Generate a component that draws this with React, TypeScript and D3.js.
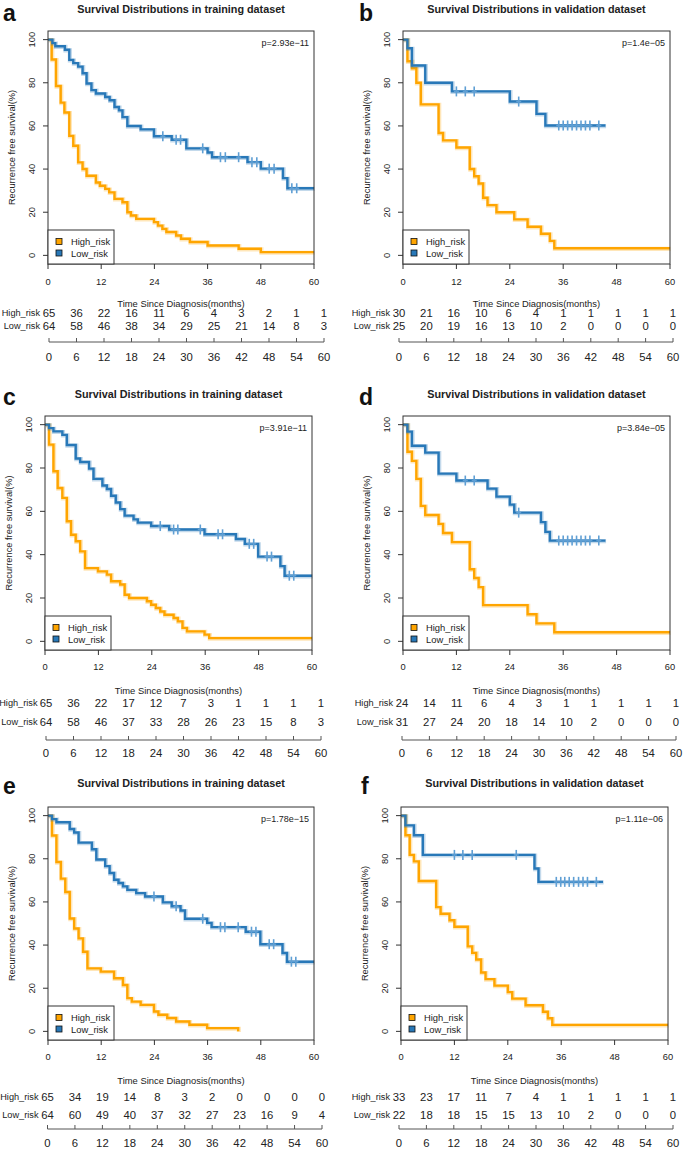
import React from "react";
import * as d3 from "d3";

// ---------- shared labels ----------
const timeTicks = [0, 12, 24, 36, 48, 60];
const riskTicks = [0, 6, 12, 18, 24, 30, 36, 42, 48, 54, 60];
const survTicks = [0, 20, 40, 60, 80, 100];
const groupNames = ["High_risk", "Low_risk"];
const panelLetters = ["a", "b", "c", "d", "e", "f"];
const panelTitles = [
  "Survival Distributions in training dataset",
  "Survival Distributions in validation dataset",
  "Survival Distributions in training dataset",
  "Survival Distributions in validation dataset",
  "Survival Distributions in training dataset",
  "Survival Distributions in validation dataset",
];
const pValues = ["p=2.93e\u221211", "p=1.4e\u221205", "p=3.91e\u221211", "p=3.84e\u221205", "p=1.78e\u221215", "p=1.11e\u221206"];
const xTitle = "Time Since Diagnosis(months)";
const yTitle = "Recurrence free survival(%)";

// ---------- panel a ----------
const aHighTime = [0.83, 1.8, 2.86, 3.7, 4.8, 5.7, 6.8, 7.8, 8.7, 10.8, 11.7, 12.9, 13.8, 15, 16.8, 17.9, 18.7, 19.9, 23.9, 24.8, 25.8, 26.7, 28.9, 30, 32, 36, 43, 48];
const aHighSurv = [90.8, 78.5, 70.8, 66.2, 55.4, 50.8, 43.1, 40, 36.9, 33.8, 32.3, 30.8, 29.2, 26.2, 24.6, 20, 18.5, 16.9, 15.4, 13.8, 12.3, 10.8, 9.2, 7.7, 6.2, 4.6, 3.1, 1.5];
const aHighCens: number[] = [];
const aHighEnd = 60;
const aLowTime = [1.0, 1.65, 3.8, 4.8, 5.7, 6.8, 7.8, 8.7, 9.8, 10.8, 12.9, 13.9, 15, 16, 16.8, 17.9, 20.9, 23.9, 27.9, 31.2, 36, 37, 45, 48, 53, 54];
const aLowSurv = [98.4, 96.9, 95.3, 90.6, 89.1, 87.5, 84.4, 79.7, 76.6, 75, 73.4, 71.9, 68.8, 67.2, 64.1, 60, 58.4, 55.2, 53.6, 49.6, 47.7, 45.5, 43.2, 40.2, 35.8, 31.1];
const aLowCens = [25.9, 28.9, 29.9, 34.9, 38.9, 40, 43, 46, 47.1, 49.9, 51, 55, 56.1];
const aLowEnd = 60;
const aHighRisk = [65, 36, 22, 16, 11, 6, 4, 3, 2, 1, 1];
const aLowRisk = [64, 58, 46, 38, 34, 29, 25, 21, 14, 8, 3];

// ---------- panel b ----------
const bHighTime = [1, 2, 3, 4, 8, 9, 12, 15, 16, 17, 18, 19, 21, 25, 28, 31, 33, 34];
const bHighSurv = [90, 86.7, 80, 70, 56.7, 53.3, 50, 40, 36.7, 33.3, 26.7, 23.3, 20, 16.7, 13.3, 10, 6.7, 3.3];
const bHighCens: number[] = [];
const bHighEnd = 60;
const bLowTime = [1, 2, 5, 11, 24, 30, 32];
const bLowSurv = [96, 88, 80, 76, 71.3, 65.6, 60.2];
const bLowCens = [12, 14, 16, 26, 35, 36, 37, 38, 39, 40, 41, 42, 44];
const bLowEnd = 45.5;
const bHighRisk = [30, 21, 16, 10, 6, 4, 1, 1, 1, 1, 1];
const bLowRisk = [25, 20, 19, 16, 13, 10, 2, 0, 0, 0, 0];

// ---------- panel c ----------
const cHighTime = [0.9, 1.9, 2.85, 3.9, 4.9, 5.85, 6.9, 7.9, 9, 11.9, 13.9, 14.85, 16.9, 17.9, 18.9, 22.9, 23.85, 24.9, 25.9, 26.85, 28.9, 29.85, 30.9, 31.9, 35.85, 36.9];
const cHighSurv = [90.8, 78.5, 70.8, 66.2, 55.4, 49.2, 46.2, 41.5, 33.8, 32.3, 30.8, 27.7, 26.2, 21.5, 20, 18.5, 16.9, 15.4, 13.8, 12.3, 10.8, 9.2, 6.2, 4.6, 3.1, 1.5];
const cHighCens: number[] = [];
const cHighEnd = 60;
const cLowTime = [0.9, 1.9, 3.9, 4.9, 6.9, 7.9, 9.9, 10.9, 12.9, 13.9, 14.85, 15.9, 16.9, 17.9, 19.9, 20.85, 23.85, 27.9, 35.85, 42.9, 44.9, 47.9, 52.9, 53.85];
const cLowSurv = [98.4, 96.9, 95.3, 90.6, 84.4, 82.8, 79.7, 75, 71.9, 70.3, 67.2, 64.1, 61, 58, 56.3, 54.8, 53.2, 51.6, 49.4, 47.2, 45, 39.1, 34.7, 30.3];
const cLowCens = [25.9, 28.9, 29.85, 34.9, 38.9, 39.9, 45.9, 46.9, 49.9, 50.9, 54.9, 55.9];
const cLowEnd = 60;
const cHighRisk = [65, 36, 22, 17, 12, 7, 3, 1, 1, 1, 1];
const cLowRisk = [64, 58, 46, 37, 33, 28, 26, 23, 15, 8, 3];

// ---------- panel d ----------
const dHighTime = [1, 2, 3, 4, 5, 8, 9, 11, 15, 16, 17, 18, 28, 30, 34];
const dHighSurv = [87.5, 83.3, 75, 62.5, 58.3, 54.2, 50, 45.8, 33.3, 29.2, 25, 16.7, 12.5, 8.3, 4.2];
const dHighCens: number[] = [];
const dHighEnd = 60;
const dLowTime = [1, 2, 5, 8, 12, 19, 21, 24, 25, 31, 32, 33];
const dLowSurv = [96.8, 90.3, 87.1, 77.4, 74.2, 70.5, 66.8, 63.1, 59.4, 55, 50.5, 46.5];
const dLowCens = [14, 16, 26, 35, 36, 37, 38, 39, 40, 41, 42, 44];
const dLowEnd = 45.5;
const dHighRisk = [24, 14, 11, 6, 4, 3, 1, 1, 1, 1, 1];
const dLowRisk = [31, 27, 24, 20, 18, 14, 10, 2, 0, 0, 0];

// ---------- panel e ----------
const eHighTime = [0.9, 1.9, 2.9, 3.9, 4.9, 5.9, 6.9, 7.9, 8.9, 11.9, 14.9, 16.9, 17.9, 18.9, 20.9, 23.9, 24.9, 26.9, 28.9, 31.9, 35.9, 42.9];
const eHighSurv = [90.8, 78.5, 70.8, 64.6, 52.3, 47.7, 43.1, 36.9, 29.2, 27.7, 24.6, 21.5, 15.4, 13.8, 12.3, 9.2, 7.7, 6.2, 4.6, 3.1, 1.5, 0];
const eHighCens: number[] = [];
const eHighEnd = 42.9;
const eLowTime = [0.9, 1.9, 4.9, 5.9, 6.9, 9.9, 10.9, 12.9, 13.9, 14.9, 15.9, 16.9, 17.9, 19.9, 21.9, 25.9, 27.9, 29.9, 30.9, 35.9, 36.9, 44.6, 47.9, 52.9, 53.9];
const eLowSurv = [98.4, 96.9, 93.8, 92.2, 87.5, 84.4, 79.7, 76.6, 73.4, 70.3, 68.8, 67.2, 65.6, 64.1, 62.5, 59.8, 58, 56, 52.2, 50.3, 48.3, 46.2, 40.4, 36.3, 32.3];
const eLowCens = [23.9, 28.9, 34.9, 38.9, 39.9, 42.9, 45.9, 46.9, 49.9, 50.9, 54.9, 55.9];
const eLowEnd = 60;
const eHighRisk = [65, 34, 19, 14, 8, 3, 2, 0, 0, 0, 0];
const eLowRisk = [64, 60, 49, 40, 37, 32, 27, 23, 16, 9, 4];

// ---------- panel f ----------
const fHighTime = [1, 1.95, 2.9, 4, 7.9, 8.9, 10.9, 12, 15, 16, 16.9, 18, 19, 21, 24, 25, 28, 31.9, 33, 34];
const fHighSurv = [90.9, 81.8, 78.8, 69.7, 57.6, 54.5, 51.5, 48.5, 39.4, 36.4, 33.3, 27.3, 24.2, 21.2, 18.2, 15.2, 12.1, 9.1, 6.1, 3];
const fHighCens: number[] = [];
const fHighEnd = 60;
const fLowTime = [1, 2.9, 4.9, 30, 30.9];
const fLowSurv = [95.5, 90.9, 81.8, 75.5, 69.3];
const fLowCens = [12, 13.9, 16, 25.9, 34.9, 35.9, 36.8, 37.8, 38.8, 39.9, 40.9, 41.9, 43.9];
const fLowEnd = 45.4;
const fHighRisk = [33, 23, 17, 11, 7, 4, 1, 1, 1, 1, 1];
const fLowRisk = [22, 18, 18, 15, 15, 13, 10, 2, 0, 0, 0];

// ---------- layout (positions only) ----------
const rowLayouts = [
  { titleY: 8.5, letterY: 21, top: 31, bottom: 264, tickLabY: 282, xlabY: 303, highY: 313, lowY: 326, axisY: 342, riskLabY: 357 },
  { titleY: 394, letterY: 405, top: 416, bottom: 650, tickLabY: 667, xlabY: 690, highY: 703, lowY: 722, axisY: 740, riskLabY: 753 },
  { titleY: 783, letterY: 794, top: 807, bottom: 1040, tickLabY: 1057, xlabY: 1080, highY: 1097, lowY: 1115, axisY: 1129, riskLabY: 1143 },
];
const colLayouts = [
  { left: 48, right: 314, rx0: 49, rx1: 324, labR: 40, letterX: 3 },
  { left: 403, right: 670, rx0: 399, rx1: 673, labR: 390, letterX: 359 },
  { left: 45, right: 312, rx0: 46, rx1: 321, labR: 37.5, letterX: 3 },
  { left: 403, right: 670, rx0: 402, rx1: 676, labR: 393, letterX: 359 },
  { left: 48, right: 314, rx0: 47.5, rx1: 322, labR: 38.5, letterX: 3 },
  { left: 401, right: 668, rx0: 399, rx1: 673, labR: 390, letterX: 361 },
];

const COLORS = ["#FFA500", "#2878B8"];
const CENSOR_COLOR = "#5f9fd4";
const FONT = "'Liberation Sans', Arial, Helvetica, sans-serif";
const INK = "#222";

type Curve = { time: number[]; surv: number[]; cens: number[]; end: number };

const panelCurves: Curve[][] = [
  [{ time: aHighTime, surv: aHighSurv, cens: aHighCens, end: aHighEnd }, { time: aLowTime, surv: aLowSurv, cens: aLowCens, end: aLowEnd }],
  [{ time: bHighTime, surv: bHighSurv, cens: bHighCens, end: bHighEnd }, { time: bLowTime, surv: bLowSurv, cens: bLowCens, end: bLowEnd }],
  [{ time: cHighTime, surv: cHighSurv, cens: cHighCens, end: cHighEnd }, { time: cLowTime, surv: cLowSurv, cens: cLowCens, end: cLowEnd }],
  [{ time: dHighTime, surv: dHighSurv, cens: dHighCens, end: dHighEnd }, { time: dLowTime, surv: dLowSurv, cens: dLowCens, end: dLowEnd }],
  [{ time: eHighTime, surv: eHighSurv, cens: eHighCens, end: eHighEnd }, { time: eLowTime, surv: eLowSurv, cens: eLowCens, end: eLowEnd }],
  [{ time: fHighTime, surv: fHighSurv, cens: fHighCens, end: fHighEnd }, { time: fLowTime, surv: fLowSurv, cens: fLowCens, end: fLowEnd }],
];
const panelRisks = [
  [aHighRisk, aLowRisk],
  [bHighRisk, bLowRisk],
  [cHighRisk, cLowRisk],
  [dHighRisk, dLowRisk],
  [eHighRisk, eLowRisk],
  [fHighRisk, fLowRisk],
];

function survAt(c: Curve, t: number) {
  let s = 100;
  c.time.forEach((tt, i) => {
    if (tt <= t) s = c.surv[i];
  });
  return s;
}

function Panel({ idx }: { idx: number }) {
  const row = rowLayouts[Math.floor(idx / 2)];
  const col = colLayouts[idx];
  const x = d3.scaleLinear().domain([0, 60]).range([col.left, col.right]);
  const y = d3.scaleLinear().domain([-4, 104]).range([row.bottom, row.top]);
  const rx = d3.scaleLinear().domain([0, 60]).range([col.rx0, col.rx1]);
  const line = d3
    .line<[number, number]>()
    .x((d) => x(d[0]))
    .y((d) => y(d[1]))
    .curve(d3.curveStepAfter);
  const curves = panelCurves[idx];
  const risks = panelRisks[idx];
  const cx = (col.left + col.right) / 2;
  const legTop = row.bottom - 34;
  const legW = 66;

  return (
    <g>
      <text x={col.letterX} y={row.letterY} fontSize={23} fontWeight="bold" fill="#111" fontFamily={FONT}>
        {panelLetters[idx]}
      </text>
      <text x={cx} y={row.titleY} fontSize={10.8} fontWeight="bold" textAnchor="middle" dominantBaseline="central" fill={INK} fontFamily={FONT}>
        {panelTitles[idx]}
      </text>
      {/* curves */}
      {curves.map((c, gi) => {
        const pts: [number, number][] = [[0, 100]];
        c.time.forEach((t, i) => pts.push([t, c.surv[i]]));
        const last = c.surv.length ? c.surv[c.surv.length - 1] : 100;
        if (c.end > c.time[c.time.length - 1]) pts.push([c.end, last]);
        const d = line(pts) || "";
        return (
          <g key={gi}>
            <path d={d} fill="none" stroke={COLORS[gi]} strokeWidth={4.2} strokeOpacity={0.28} transform="translate(0.6,0.6)" />
            <path d={d} fill="none" stroke={COLORS[gi]} strokeWidth={2.4} />
            {c.cens.map((t, k) => {
              const px = x(t);
              const py = y(survAt(c, t));
              return (
                <g key={k}>
                  <line x1={px} x2={px} y1={py - 5} y2={py + 5} stroke={CENSOR_COLOR} strokeWidth={1.6} />
                  <line x1={px - 2.5} x2={px + 2.5} y1={py} y2={py} stroke={CENSOR_COLOR} strokeWidth={1.4} />
                </g>
              );
            })}
          </g>
        );
      })}
      {/* box */}
      <rect x={col.left} y={row.top} width={col.right - col.left} height={row.bottom - row.top} fill="none" stroke="#333" strokeWidth={1} />
      {/* p value */}
      <text x={col.right - 5} y={row.top + 12} fontSize={9} textAnchor="end" dominantBaseline="central" fill={INK} fontFamily={FONT}>
        {pValues[idx]}
      </text>
      {/* y axis */}
      {survTicks.map((v) => (
        <g key={v}>
          <line x1={col.left - 5} x2={col.left} y1={y(v)} y2={y(v)} stroke="#333" strokeWidth={1} />
          <text
            transform={`translate(${col.left - 16},${y(v)}) rotate(-90)`}
            fontSize={9.3}
            textAnchor="middle"
            dominantBaseline="central"
            fill={INK}
            fontFamily={FONT}
          >
            {v}
          </text>
        </g>
      ))}
      <text
        transform={`translate(${col.left - 36},${(y(0) + y(100)) / 2}) rotate(-90)`}
        fontSize={9.3}
        textAnchor="middle"
        dominantBaseline="central"
        fill={INK}
        fontFamily={FONT}
      >
        {yTitle}
      </text>
      {/* x axis */}
      {timeTicks.map((v) => (
        <g key={v}>
          <line x1={x(v)} x2={x(v)} y1={row.bottom} y2={row.bottom + 5} stroke="#333" strokeWidth={1} />
          <text x={x(v)} y={row.tickLabY} fontSize={9.3} textAnchor="middle" dominantBaseline="central" fill={INK} fontFamily={FONT}>
            {v}
          </text>
        </g>
      ))}
      <text x={cx} y={row.xlabY} fontSize={9.4} textAnchor="middle" dominantBaseline="central" fill={INK} fontFamily={FONT}>
        {xTitle}
      </text>
      {/* legend */}
      <rect x={col.left} y={legTop} width={legW} height={row.bottom - legTop} fill="#fff" stroke="#333" strokeWidth={1} />
      {groupNames.map((g, gi) => (
        <g key={g}>
          <rect x={col.left + 8} y={legTop + 11.5 * (gi + 1) - 3} width={6} height={6} fill={COLORS[gi]} stroke="#111" strokeWidth={0.8} />
          <text x={col.left + 23} y={legTop + 11.5 * (gi + 1)} fontSize={9.4} dominantBaseline="central" fill={INK} fontFamily={FONT}>
            {g}
          </text>
        </g>
      ))}
      {/* risk table */}
      {groupNames.map((g, gi) => {
        const ry = gi === 0 ? row.highY : row.lowY;
        return (
          <g key={g}>
            <text x={col.labR} y={ry} fontSize={9.2} textAnchor="end" dominantBaseline="central" fill={INK} fontFamily={FONT}>
              {g}
            </text>
            {risks[gi].map((n, k) => (
              <text key={k} x={rx(riskTicks[k])} y={ry} fontSize={11.3} textAnchor="middle" dominantBaseline="central" fill={INK} fontFamily={FONT}>
                {n}
              </text>
            ))}
          </g>
        );
      })}
      <line x1={rx(0)} x2={rx(60)} y1={row.axisY} y2={row.axisY} stroke="#555" strokeWidth={1} />
      {riskTicks.map((v) => (
        <g key={v}>
          <line x1={rx(v)} x2={rx(v)} y1={row.axisY} y2={row.axisY - 4} stroke="#555" strokeWidth={1} />
          <text x={rx(v)} y={row.riskLabY} fontSize={11.3} textAnchor="middle" dominantBaseline="central" fill={INK} fontFamily={FONT}>
            {v}
          </text>
        </g>
      ))}
    </g>
  );
}

export default function App() {
  return (
    <svg
      width={685}
      height={1150}
      viewBox="0 0 685 1150"
      style={{ position: "absolute", left: 0, top: 0, background: "#fff", display: "block" }}
    >
      <rect x={0} y={0} width={685} height={1150} fill="#fff" />
      {panelLetters.map((_, i) => (
        <Panel key={i} idx={i} />
      ))}
    </svg>
  );
}
